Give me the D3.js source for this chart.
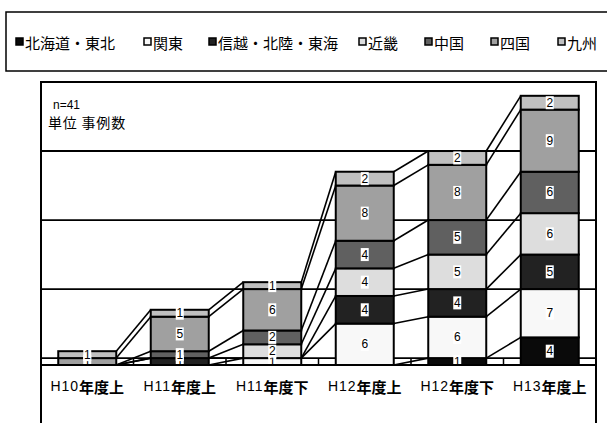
<!DOCTYPE html>
<html>
<head>
<meta charset="utf-8">
<script src="https://cdn.jsdelivr.net/npm/d3@7"></script>
<style>
  body { margin: 0; background: #fff; }
  svg { display: block; }
</style>
</head>
<body>
<script>
// ---- data ----
const categories = ["H10年度上", "H11年度上", "H11年度下", "H12年度上", "H12年度下", "H13年度上"];
const regions = ["北海道・東北", "関東", "信越・北陸・東海", "近畿", "中国", "四国", "九州"];
const hokkaidoTohoku = [0, 0, 0, 0, 1, 4];
const kanto          = [0, 0, 1, 6, 6, 7];
const shinetsu       = [0, 1, 0, 4, 4, 5];
const kinki          = [0, 0, 2, 4, 5, 6];
const chugoku        = [0, 1, 2, 4, 5, 6];
const shikoku        = [1, 5, 6, 8, 8, 9];
const kyushu         = [1, 1, 1, 2, 2, 2];
const gridValues = [1, 11, 21, 31];
const yMax = 41;
const sampleNote = "n=41";
const unitNote = "単位 事例数";

// ---- layout / style ----
const width = 607, height = 423;
const plot = { left: 41, right: 596, top: 82, bottom: 365 };
const colors = ["#0a0a0a", "#f8f8f8", "#222222", "#dddddd", "#606060", "#a0a0a0", "#c0c0c0"];
const legendX = [16, 144, 209, 359, 425, 491, 558];
const jpFont = "'Noto Sans CJK JP', sans-serif";
const numFont = "'Liberation Sans', Arial, sans-serif";

const seriesValues = [hokkaidoTohoku, kanto, shinetsu, kinki, chugoku, shikoku, kyushu];
const table = categories.map((c, i) => {
    const row = { category: c };
    regions.forEach((r, j) => row[r] = seriesValues[j][i]);
    return row;
});
const stacked = d3.stack().keys(regions)(table);

const svg = d3.select("body").append("svg")
    .attr("width", width)
    .attr("height", height);

const x = d3.scaleBand()
    .domain(categories)
    .range([plot.left, plot.right])
    .paddingInner(0.373)
    .paddingOuter(0.1865);

const y = d3.scaleLinear()
    .domain([0, yMax])
    .range([plot.bottom, plot.top]);

// legend box
svg.append("rect")
    .attr("x", 6).attr("y", 12)
    .attr("width", 612).attr("height", 59)
    .attr("fill", "none").attr("stroke", "#000").attr("stroke-width", 1.5);

const legend = svg.append("g");
regions.forEach((r, i) => {
    legend.append("rect")
        .attr("x", legendX[i]).attr("y", 38)
        .attr("width", 7).attr("height", 7)
        .attr("fill", colors[i]).attr("stroke", "#000").attr("stroke-width", 1.5);
    legend.append("text")
        .attr("x", legendX[i] + 9).attr("y", 42)
        .attr("dominant-baseline", "central")
        .attr("font-family", jpFont).attr("font-size", 15)
        .text(r);
});

// gridlines
svg.append("g")
    .selectAll("line")
    .data(gridValues)
    .join("line")
    .attr("x1", plot.left).attr("x2", plot.right)
    .attr("y1", d => y(d)).attr("y2", d => y(d))
    .attr("stroke", "#000").attr("stroke-width", 1.8);

// category boundary ticks
const step = x.step();
svg.append("g")
    .selectAll("line")
    .data(categories.slice(1))
    .join("line")
    .attr("x1", d => x(d) - (step - x.bandwidth()) / 2)
    .attr("x2", d => x(d) - (step - x.bandwidth()) / 2)
    .attr("y1", y(0)).attr("y2", y(0) - 7)
    .attr("stroke", "#000").attr("stroke-width", 1.5);

// series lines
const lines = svg.append("g");
stacked.forEach(s => {
    for (let i = 0; i < categories.length - 1; i++) {
        lines.append("line")
            .attr("x1", x(categories[i]) + x.bandwidth())
            .attr("y1", y(s[i][1]))
            .attr("x2", x(categories[i + 1]))
            .attr("y2", y(s[i + 1][1]))
            .attr("stroke", "#000").attr("stroke-width", 1.6);
    }
});

// bars
svg.append("g")
    .selectAll("g")
    .data(stacked)
    .join("g")
    .attr("fill", (d, i) => colors[i])
    .selectAll("rect")
    .data(d => d.filter(p => p[1] - p[0] > 0))
    .join("rect")
    .attr("x", d => x(d.data.category))
    .attr("y", d => y(d[1]))
    .attr("width", x.bandwidth())
    .attr("height", d => y(d[0]) - y(d[1]))
    .attr("stroke", "#000")
    .attr("stroke-width", 2);

// value labels (clipped to the plot area)
svg.append("clipPath").attr("id", "plotClip")
    .append("rect")
    .attr("x", plot.left).attr("y", plot.top)
    .attr("width", plot.right - plot.left).attr("height", plot.bottom - plot.top);

const labels = svg.append("g").attr("clip-path", "url(#plotClip)");
stacked.forEach(s => {
    s.forEach(p => {
        const v = p[1] - p[0];
        if (v <= 0) return;
        const cx = x(p.data.category) + x.bandwidth() / 2;
        const cy = (y(p[0]) + y(p[1])) / 2;
        labels.append("rect")
            .attr("x", cx - 4).attr("y", cy - 6.5)
            .attr("width", 8).attr("height", 13)
            .attr("fill", "#fff");
        labels.append("text")
            .attr("x", cx).attr("y", cy)
            .attr("text-anchor", "middle")
            .attr("dominant-baseline", "central")
            .attr("font-family", numFont).attr("font-size", 12)
            .text(v);
    });
});

// axis line and plot frame
svg.append("line")
    .attr("x1", plot.left).attr("x2", plot.right)
    .attr("y1", y(0)).attr("y2", y(0))
    .attr("stroke", "#000").attr("stroke-width", 2);
svg.append("path")
    .attr("d", `M${plot.left},${height + 5}V${plot.top}H${plot.right}V${height + 5}`)
    .attr("fill", "none").attr("stroke", "#000").attr("stroke-width", 2);

// category labels
const xAxis = svg.append("g")
    .attr("transform", `translate(0,${y(0)})`)
    .call(d3.axisBottom(x).tickSize(0));
xAxis.select(".domain").remove();
xAxis.selectAll("text")
    .attr("y", 21).attr("dy", null)
    .attr("dominant-baseline", "central")
    .attr("fill", "#000")
    .text(null)
    .each(function (d) {
        const m = d.match(/^(H\d+)(.*)$/);
        const t = d3.select(this);
        t.append("tspan")
            .attr("font-family", numFont).attr("font-size", 14)
            .attr("letter-spacing", 1)
            .text(m[1]);
        t.append("tspan")
            .attr("font-family", jpFont).attr("font-size", 15)
            .attr("font-weight", "bold")
            .text(m[2]);
    });

// notes
svg.append("text")
    .attr("x", 53).attr("y", 105)
    .attr("dominant-baseline", "central")
    .attr("font-family", numFont).attr("font-size", 12)
    .text(sampleNote);
svg.append("text")
    .attr("x", 48).attr("y", 122)
    .attr("dominant-baseline", "central")
    .attr("font-family", jpFont).attr("font-size", 14)
    .attr("letter-spacing", 0.8)
    .text(unitNote);
</script>
</body>
</html>
